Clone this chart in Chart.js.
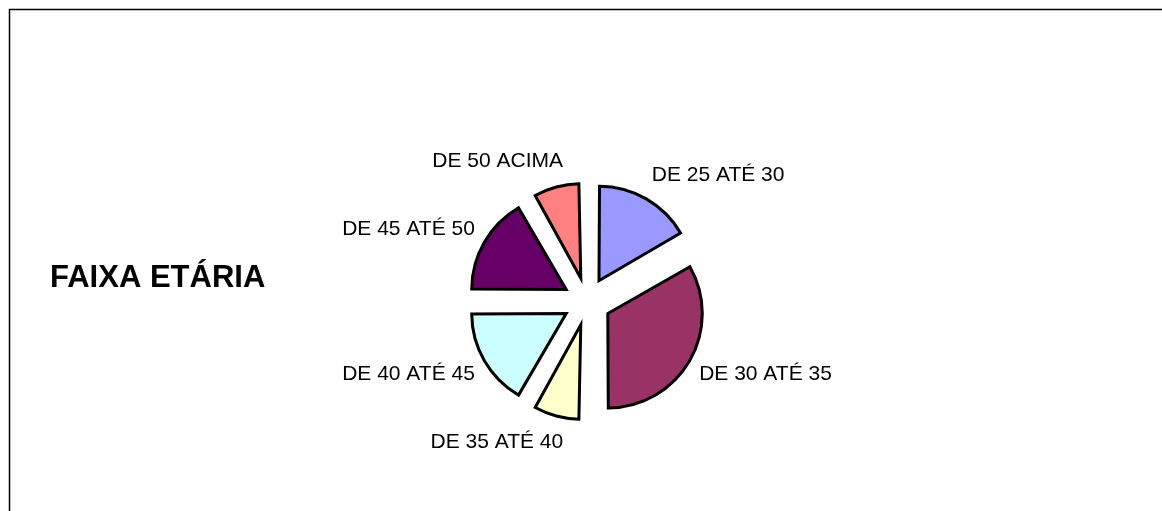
<!DOCTYPE html>
<html>
<head>
<meta charset="utf-8">
<script src="https://cdn.jsdelivr.net/npm/chart.js@4.4.1/dist/chart.umd.min.js"></script>
<style>
  html, body { margin: 0; padding: 0; background: #fff; }
  #wrap { width: 1162px; height: 511px; position: relative; }
</style>
</head>
<body>
<div id="wrap"><canvas id="chart"></canvas></div>
<script>
const labels = ['DE 25 ATÉ 30', 'DE 30 ATÉ 35', 'DE 35 ATÉ 40', 'DE 40 ATÉ 45', 'DE 45 ATÉ 50', 'DE 50 ACIMA'];
const values = [2, 4, 1, 2, 2, 1];
const colors = ['#9999FF', '#993366', '#FFFFCC', '#CCFFFF', '#660066', '#FF8080'];
const chartTitle = 'FAIXA ETÁRIA';

const RADIUS = 94.5;
const EXPLODE = 24; // px each slice is pulled out

// chart.js grows small arcs when offset is used; undo that so all slices share one radius
const keepRadius = {
  id: 'keepRadius',
  afterDatasetsUpdate(chart) {
    chart.getDatasetMeta(0).data.forEach(arc => {
      const fix = 1 - Math.sin(Math.min(Math.PI, arc.circumference));
      arc.outerRadius = RADIUS - EXPLODE * fix;
    });
  }
};

// frame, title and slice labels
const decorations = {
  id: 'decorations',
  afterDraw(chart) {
    const ctx = chart.ctx;
    ctx.save();
    ctx.strokeStyle = '#000';
    ctx.lineWidth = 1.5;
    ctx.strokeRect(9.5, 9.5, 1200, 600);

    ctx.fillStyle = '#000';
    ctx.font = 'bold 31px "Liberation Sans", Arial, sans-serif';
    ctx.textBaseline = 'middle';
    ctx.textAlign = 'left';
    ctx.fillText(chartTitle, 50, 278);
    ctx.restore();

    ctx.save();
    ctx.fillStyle = '#000';
    ctx.font = '21px "Liberation Sans", Arial, sans-serif';
    ctx.textAlign = 'center';
    ctx.textBaseline = 'middle';
    chart.getDatasetMeta(0).data.forEach((arc, i) => {
      const mid = (arc.startAngle + arc.endAngle) / 2;
      const s = Math.cos(mid);   // horizontal
      const c = Math.sin(mid);   // vertical (down positive)
      const r = RADIUS + EXPLODE + 11;
      const ax = arc.x + s * r;
      const ay = arc.y + c * r;
      const w = ctx.measureText(labels[i]).width;
      const kx = Math.max(-1, Math.min(1, s * 3.3));
      ctx.fillText(labels[i], ax + kx * w / 2, ay + c * 16);
    });
    ctx.restore();
  }
};

new Chart(document.getElementById('chart'), {
  type: 'pie',
  data: {
    labels: labels,
    datasets: [{
      data: values,
      backgroundColor: colors,
      borderColor: '#000',
      borderWidth: 3,
      borderJoinStyle: 'miter',
      offset: EXPLODE * 4
    }]
  },
  options: {
    responsive: true,
    maintainAspectRatio: false,
    animation: false,
    radius: RADIUS,
    layout: { padding: { left: 400, right: 388, top: 200, bottom: 108 } },
    plugins: {
      legend: { display: false },
      title: { display: false },
      tooltip: { enabled: false }
    }
  },
  plugins: [keepRadius, decorations]
});
</script>
</body>
</html>
